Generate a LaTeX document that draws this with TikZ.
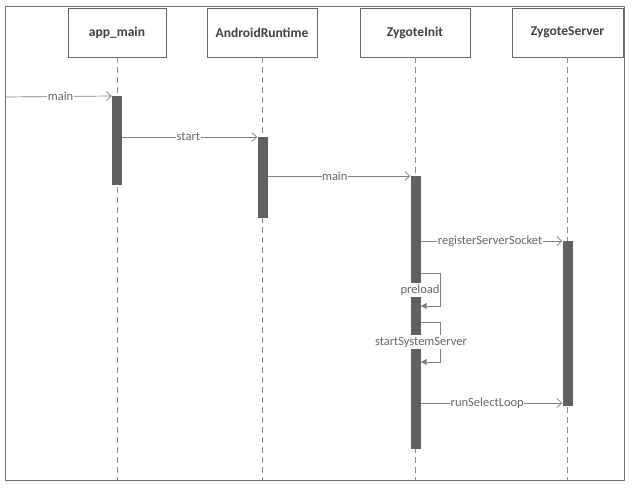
\documentclass[tikz,border=0pt]{standalone}
\usepackage{fontspec}
\setmainfont{Carlito}
\usetikzlibrary{arrows.meta,positioning}

\tikzset{
  head/.style={draw=black!60, line width=0.8pt, minimum height=49pt, inner sep=0pt,
    font=\bfseries\fontsize{13.5}{15}\selectfont, text=black!75},
  actbar/.style={fill=black!62, minimum width=10pt, inner sep=0pt, anchor=north},
  life/.style={draw=black!45, line width=0.6pt, dash pattern=on 6pt off 4pt},
  msg/.style={draw=black!50, line width=0.7pt, -{Straight Barb[length=5pt,width=9pt]}},
  selfmsg/.style={draw=black!50, line width=0.7pt, -{Triangle[length=6pt,width=6pt]}},
  lbl/.style={fill=white, text=black!60, inner xsep=0.5pt, inner ysep=2pt,
    font=\fontsize{12.5}{14}\selectfont},
}

\begin{document}
\begin{tikzpicture}[x=1pt, y=-1pt]
\useasboundingbox (0,0) rectangle (635,490);
\draw[black!55, line width=0.8pt] (5,6) rectangle (624,480);

% lifeline heads
\node[head, minimum width=98pt] (am) at (117,32.5) {app\_main};
\node[head, minimum width=110pt] (ar) at (262,32.5) {AndroidRuntime};
\node[head, minimum width=110pt] (zi) at (415,32.5) {ZygoteInit};
\node[head, minimum width=111pt] (zs) at (567.5,32.5) {ZygoteServer};

\foreach \n in {am,ar,zi,zs}
  \draw[life] (\n.south) -- (\n.south |- 0,480);

% activations
\node[actbar, minimum height=89pt] (amBar) at (117,96) {};
\node[actbar, minimum height=81pt] (arBar) at (262.5,137) {};
\node[actbar, minimum height=273pt] (ziBar) at (415.5,176) {};
\node[actbar, minimum height=165pt] (zsBar) at (567.5,241) {};

% messages
\coordinate (entry) at (5,97);
\draw[msg] (entry) -- node[lbl, pos=0.52] {main} (amBar.north west);
\draw[msg] (amBar.east |- arBar.north) -- node[lbl, pos=0.49] {start} (arBar.north west);
\draw[msg] (arBar.east |- ziBar.north) -- node[lbl, pos=0.47] {main} (ziBar.north west);
\draw[msg] (ziBar.east |- zsBar.north) -- node[lbl, pos=0.49] {registerServerSocket} (zsBar.north west);
\draw[msg] (ziBar.east |- 0,403) -- node[lbl, pos=0.47] {runSelectLoop} (zsBar.west |- 0,403);

% self calls
\draw[selfmsg] (ziBar.east |- 0,273) -- ++(20,0) -- ++(0,33) -- (ziBar.east |- 0,306);
\draw[selfmsg] (ziBar.east |- 0,322) -- ++(20,0) -- ++(0,40) -- (ziBar.east |- 0,362);
\node[lbl] (preload) at (420,290) {preload};
\node[lbl] (sss) at (421,342) {startSystemServer};
\end{tikzpicture}
\end{document}
